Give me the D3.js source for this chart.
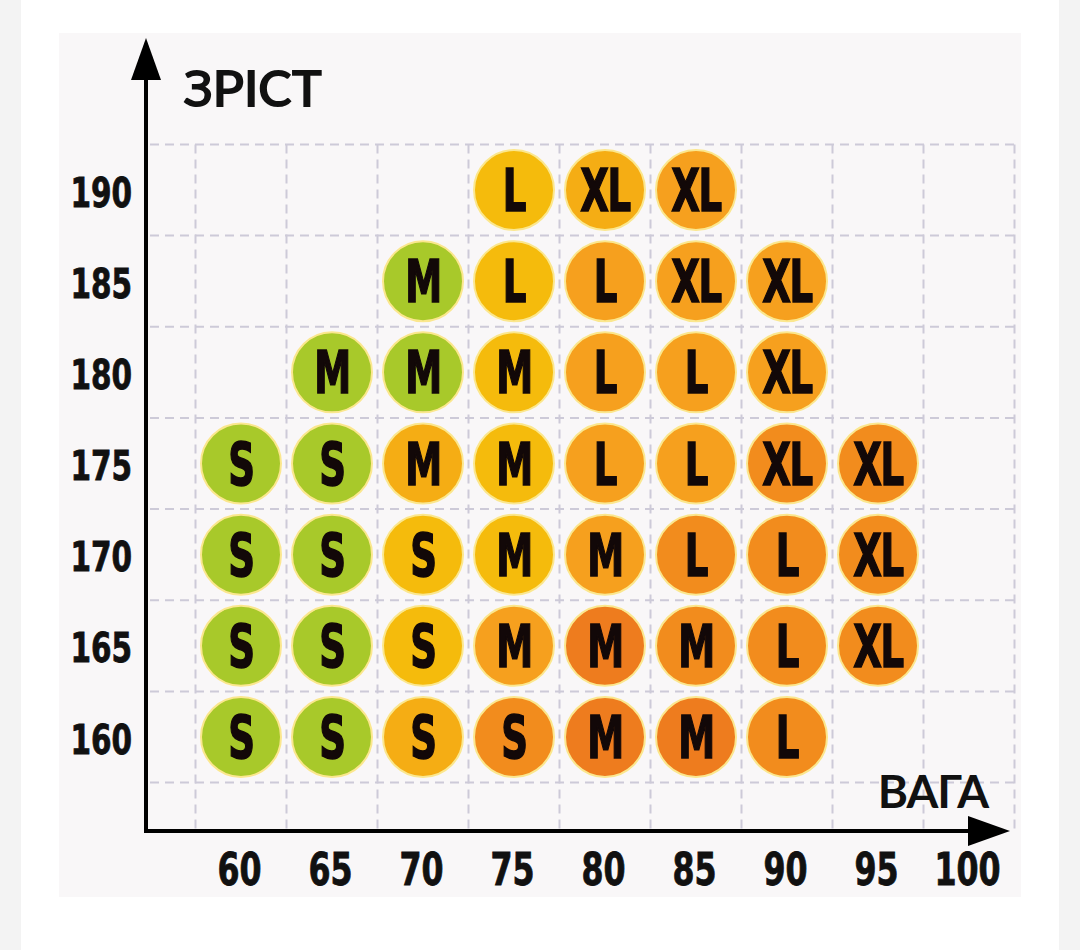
<!DOCTYPE html>
<html>
<head>
<meta charset="utf-8">
<script src="https://cdn.jsdelivr.net/npm/d3@7"></script>
<style>
  body { margin: 0; background: #fff; }
  svg { display: block; }
</style>
</head>
<body>
<div id="chart"></div>
<script>
// weight (кг) along x, height (см) along y
var weights = [60, 65, 70, 75, 80, 85, 90, 95, 100];
var heights = [160, 165, 170, 175, 180, 185, 190];

// sizes per height row, one entry per weight 60..95 (null = no circle)
var row190 = [null, null, null, "L", "XL", "XL", null, null];
var row185 = [null, null, "M", "L", "L", "XL", "XL", null];
var row180 = [null, "M", "M", "M", "L", "L", "XL", null];
var row175 = ["S", "S", "M", "M", "L", "L", "XL", "XL"];
var row170 = ["S", "S", "S", "M", "M", "L", "L", "XL"];
var row165 = ["S", "S", "S", "M", "M", "M", "L", "XL"];
var row160 = ["S", "S", "S", "S", "M", "M", "L", null];

// colour tone of each circle, 0 = green ... 5 = deep orange
var tone190 = [null, null, null, 1, 2, 3, null, null];
var tone185 = [null, null, 0, 1, 3, 3, 3, null];
var tone180 = [null, 0, 0, 1, 3, 3, 3, null];
var tone175 = [0, 0, 2, 1, 3, 3, 4, 4];
var tone170 = [0, 0, 1, 1, 3, 4, 4, 4];
var tone165 = [0, 0, 1, 3, 5, 4, 4, 4];
var tone160 = [0, 0, 2, 4, 5, 5, 4, null];

var yTitle = "ЗРІСТ";
var xTitle = "ВАГА";

var rows = [
  {h: 190, sizes: row190, tones: tone190},
  {h: 185, sizes: row185, tones: tone185},
  {h: 180, sizes: row180, tones: tone180},
  {h: 175, sizes: row175, tones: tone175},
  {h: 170, sizes: row170, tones: tone170},
  {h: 165, sizes: row165, tones: tone165},
  {h: 160, sizes: row160, tones: tone160}
];

var cells = [];
rows.forEach(function(r) {
  r.sizes.forEach(function(s, i) {
    if (s) cells.push({w: weights[i], h: r.h, size: s, tone: r.tones[i]});
  });
});

var W = 1080, H = 950;
var numFont = "'DejaVu Sans Condensed', 'Liberation Sans Narrow', sans-serif";

var svg = d3.select("#chart").append("svg")
  .attr("width", W)
  .attr("height", H);

// page background strips and chart panel
svg.append("rect").attr("x", 0).attr("y", 0).attr("width", 21).attr("height", H).style("fill", "#f3f3f3");
svg.append("rect").attr("x", 1059).attr("y", 0).attr("width", 21).attr("height", H).style("fill", "#f3f3f3");
svg.append("rect").attr("x", 59).attr("y", 33).attr("width", 962).attr("height", 864).style("fill", "#f9f7f8");

var x = d3.scaleLinear().domain([60, 100]).range([241, 969]);
var y = d3.scaleLinear().domain([160, 190]).range([737, 190]);

var colorScale = d3.scaleOrdinal()
  .domain([0, 1, 2, 3, 4, 5])
  .range(["#a8c92a", "#f5bb0c", "#f5ad14", "#f6a01e", "#f28c1d", "#ee7c1e"]);

var axisX = 146, axisY = 831;

// dashed grid between the cells
var grid = svg.append("g").attr("class", "grid")
  .style("stroke", "#cdcad8")
  .style("stroke-width", 2)
  .style("stroke-dasharray", "9,6");

grid.selectAll(".vline")
  .data(d3.range(57.5, 105, 5))
  .enter().append("line")
  .attr("class", "vline")
  .attr("x1", function(d) { return x(d); })
  .attr("x2", function(d) { return x(d); })
  .attr("y1", y(192.5))
  .attr("y2", axisY);

grid.selectAll(".hline")
  .data(d3.range(157.5, 195, 5))
  .enter().append("line")
  .attr("class", "hline")
  .attr("x1", axisX + 4)
  .attr("x2", x(102.5))
  .attr("y1", function(d) { return y(d); })
  .attr("y2", function(d) { return y(d); });

// axes with arrows
svg.append("line")
  .attr("x1", axisX).attr("y1", axisY + 2)
  .attr("x2", axisX).attr("y2", 70)
  .style("stroke", "#000").style("stroke-width", 4);
svg.append("path")
  .attr("d", "M" + axisX + ",38 L" + (axisX + 15) + ",80 L" + (axisX - 15) + ",80 Z")
  .style("fill", "#000");

svg.append("line")
  .attr("x1", axisX - 2).attr("y1", axisY)
  .attr("x2", 975).attr("y2", axisY)
  .style("stroke", "#000").style("stroke-width", 4);
svg.append("path")
  .attr("d", "M1010," + axisY + " L968," + (axisY - 15) + " L968," + (axisY + 15) + " Z")
  .style("fill", "#000");

// tick labels (condensed by a horizontal squeeze)
var xAxis = d3.axisBottom(x).tickValues(weights).tickSize(0).tickPadding(0);
var gx = svg.append("g")
  .attr("class", "x axis")
  .attr("transform", "translate(-2," + axisY + ")")
  .call(xAxis);
gx.select(".domain").remove();
gx.selectAll("text")
  .attr("y", 54)
  .attr("dy", 0)
  .attr("transform", "scale(0.8,1)")
  .style("font-family", numFont)
  .style("font-weight", "bold")
  .style("font-size", "44px")
  .style("stroke", "#111")
  .style("stroke-width", 0.8)
  .style("fill", "#111");

var yAxis = d3.axisLeft(y).tickValues(heights).tickSize(0).tickPadding(0);
var gy = svg.append("g")
  .attr("class", "y axis")
  .attr("transform", "translate(132,0)")
  .call(yAxis);
gy.select(".domain").remove();
gy.selectAll("text")
  .attr("x", 0)
  .attr("dy", 16)
  .attr("transform", "scale(0.8,1)")
  .style("font-family", numFont)
  .style("font-weight", "bold")
  .style("font-size", "41px")
  .style("stroke", "#111")
  .style("stroke-width", 0.8)
  .style("fill", "#111");

// axis titles
svg.append("text")
  .attr("x", 183)
  .attr("y", 107)
  .style("font-family", "Lato, 'Open Sans', sans-serif")
  .style("font-weight", "bold")
  .style("font-size", "52px")
  .style("letter-spacing", "-1px")
  .style("fill", "#111")
  .text(yTitle);

svg.append("text")
  .attr("x", 988)
  .attr("y", 808)
  .style("font-family", "Lato, 'Open Sans', sans-serif")
  .style("font-weight", "bold")
  .style("font-size", "46px")
  .style("letter-spacing", "-1px")
  .style("text-anchor", "end")
  .style("fill", "#111")
  .text(xTitle);

// size circles
var dots = svg.selectAll(".dot")
  .data(cells)
  .enter().append("g")
  .attr("class", "dot")
  .attr("transform", function(d) {
    return "translate(" + x(d.w) + "," + y(d.h) + ")";
  });

dots.append("circle")
  .attr("r", 40)
  .style("fill", function(d) { return colorScale(d.tone); })
  .style("stroke", "#fbe78e")
  .style("stroke-width", 2);

dots.append("text")
  .attr("transform", "scale(0.7,1)")
  .attr("y", 21)
  .style("font-family", numFont)
  .style("font-weight", "bold")
  .style("font-size", "59px")
  .style("text-anchor", "middle")
  .style("letter-spacing", "-2px")
  .style("stroke", "#120808")
  .style("stroke-width", 1.5)
  .style("fill", "#120808")
  .text(function(d) { return d.size; });
</script>
</body>
</html>
